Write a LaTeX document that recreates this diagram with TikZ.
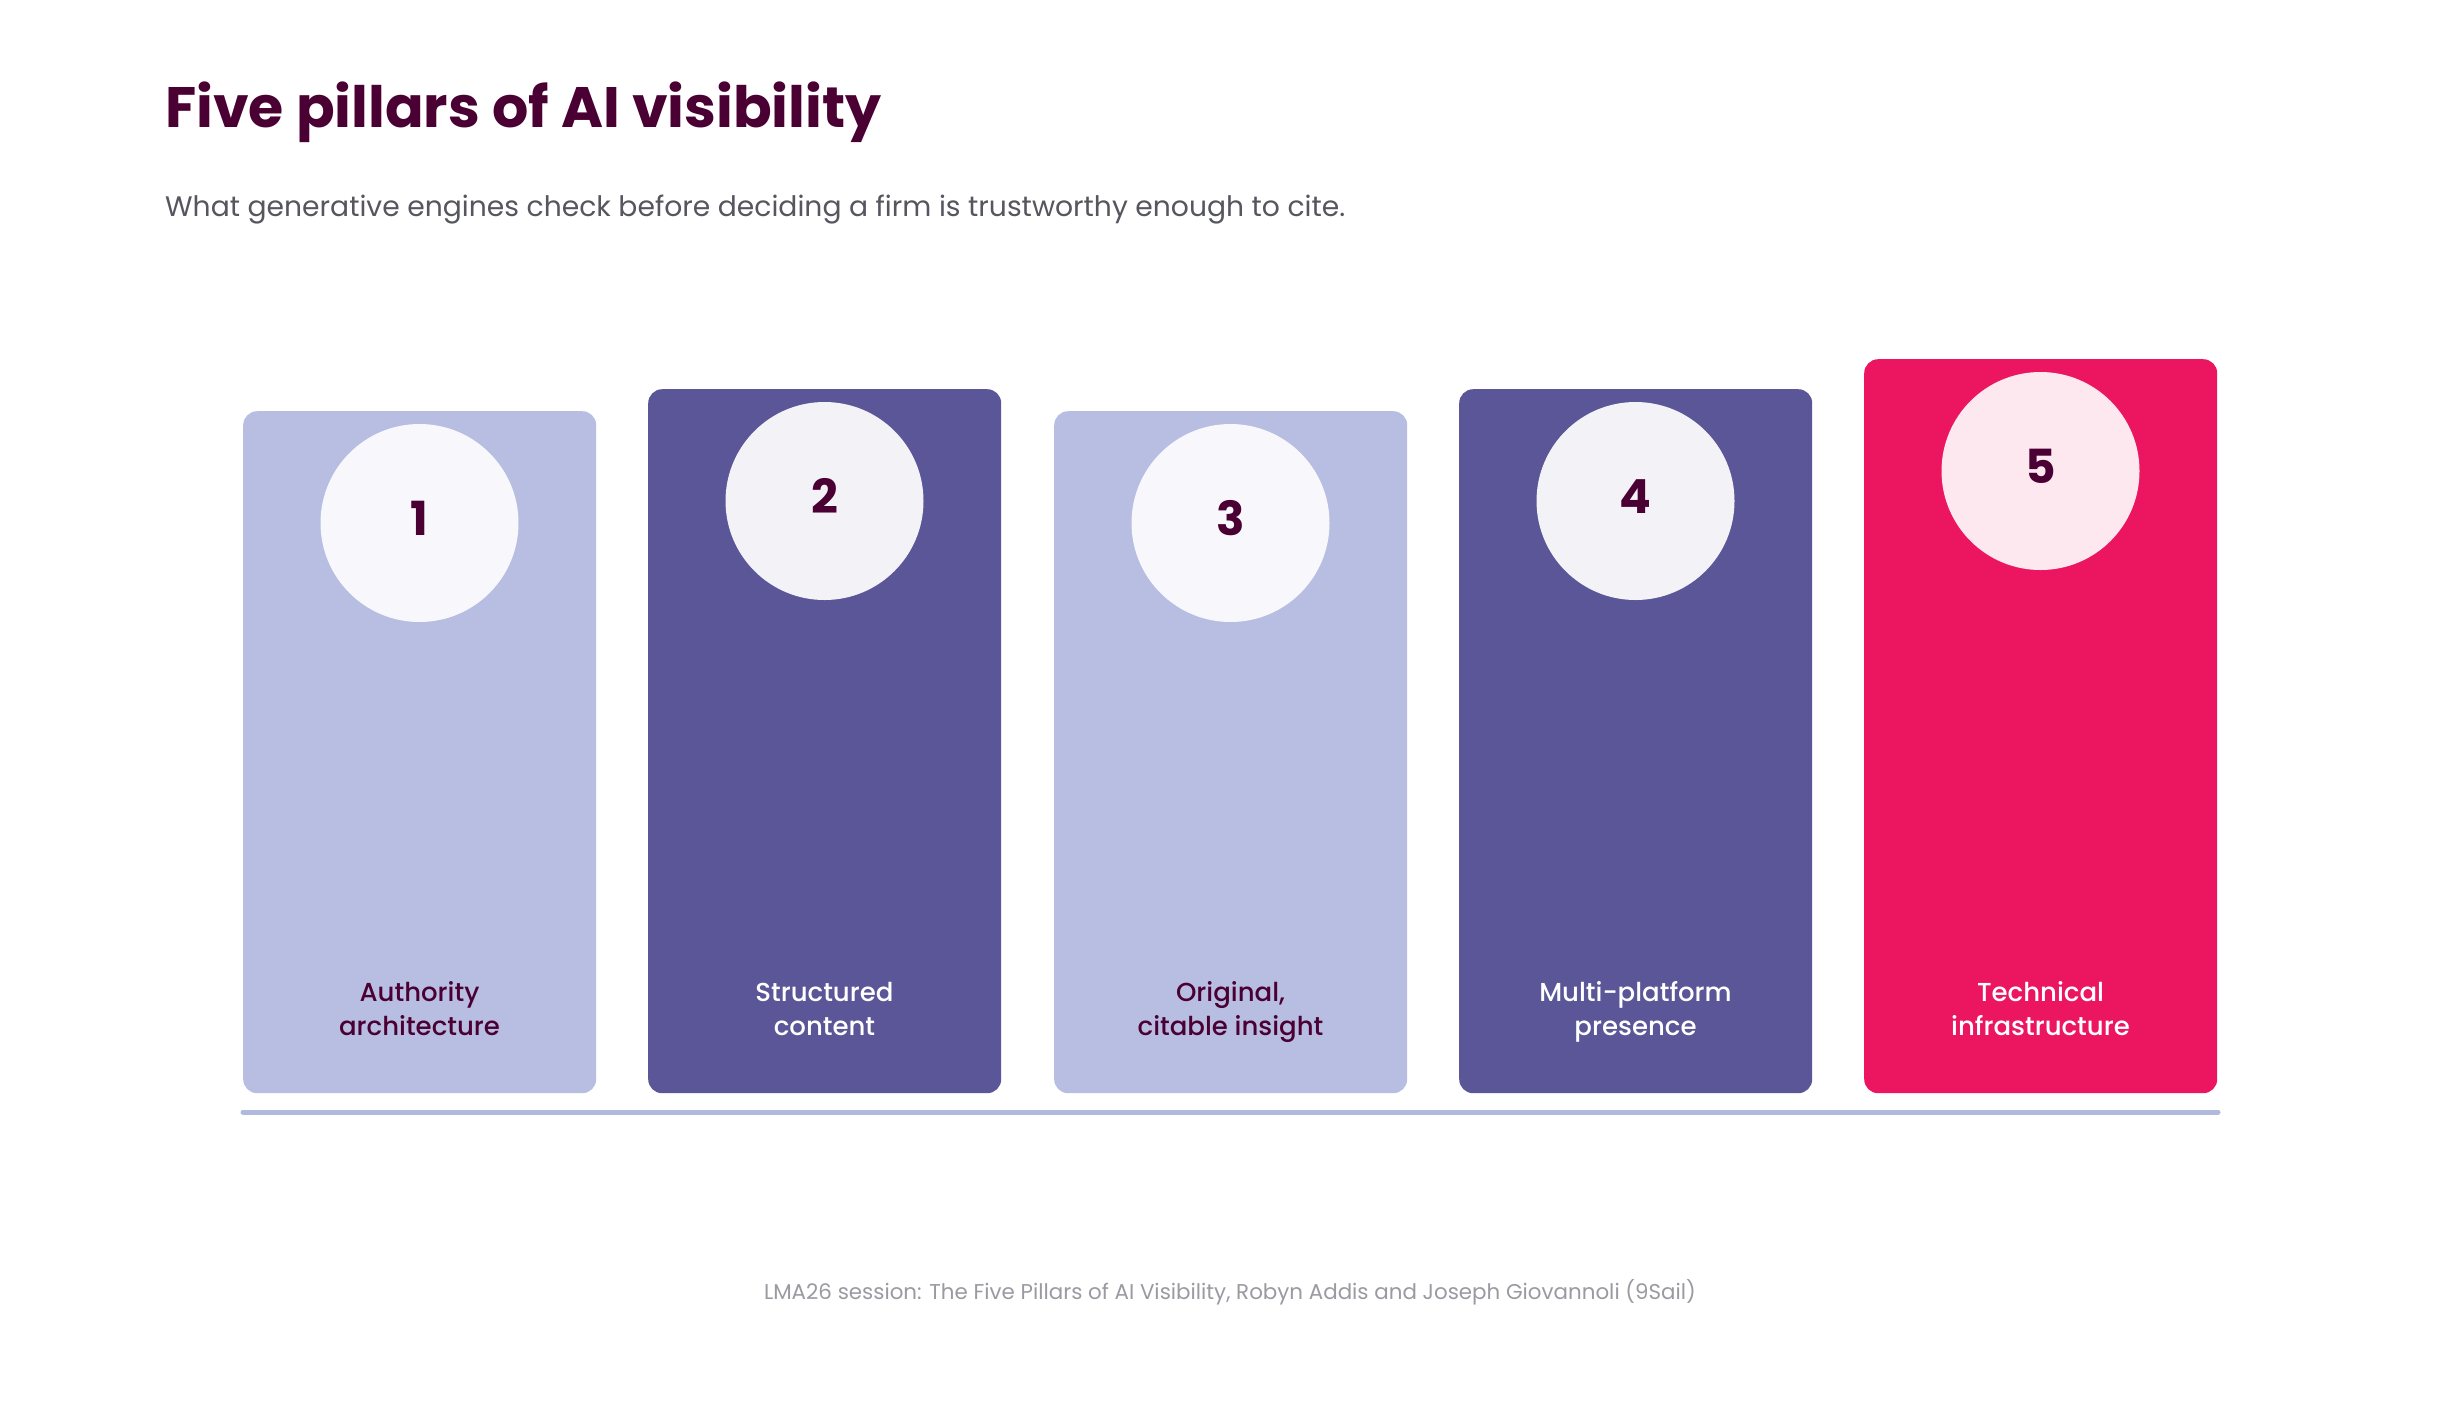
\documentclass[tikz,border=0pt]{standalone}
\usepackage{fontspec}
\setmainfont{Poppins}
\newfontfamily\pillarfont{Poppins Medium}
\definecolor{maroon}{HTML}{4A0033}
\definecolor{subgray}{HTML}{55565E}
\definecolor{footgray}{HTML}{9A9AA2}
\definecolor{lavender}{HTML}{B7BEE2}
\definecolor{indigo}{HTML}{5A5698}
\definecolor{crimson}{HTML}{EC1660}
\definecolor{baseblue}{HTML}{B0BADF}
\definecolor{discpale}{HTML}{F8F8FC}
\definecolor{discgray}{HTML}{F2F2F7}
\definecolor{discpink}{HTML}{FDE8F0}
\tikzset{
  pillar/.style={rectangle, rounded corners=14pt, anchor=north west, minimum width=353pt, inner sep=0pt},
  disc/.style={circle, minimum size=198pt, inner sep=0pt, text height=33pt, text depth=8pt, font=\fontsize{47}{47}\selectfont\bfseries, text=maroon},
  caption/.style={align=center, text height=52pt, text depth=8pt, font=\pillarfont\fontsize{26}{34}\selectfont},
}
\begin{document}
\begin{tikzpicture}[x=1pt, y=-1pt]
\useasboundingbox [fill=white] (0,0) rectangle (2460,1409);
% heading
\node [anchor=base west, inner sep=0pt, text=maroon, font=\fontsize{57}{57}\selectfont\bfseries] (title) at (165,127) {Five pillars of AI visibility};
\node [anchor=base west, inner sep=0pt, text=subgray, font=\fontsize{28.2}{28.2}\selectfont] (subtitle) at (165,216) {What generative engines check before deciding a firm is trustworthy enough to cite.};
% pillars
\node [pillar, fill=lavender, minimum height=682pt] (p1) at (243,411) {};
\node [pillar, fill=indigo, minimum height=704pt] (p2) at (648,389) {};
\node [pillar, fill=lavender, minimum height=682pt] (p3) at (1054,411) {};
\node [pillar, fill=indigo, minimum height=704pt] (p4) at (1459,389) {};
\node [pillar, fill=crimson, minimum height=734pt] (p5) at (1864,359) {};
% numbered discs
\node [disc, fill=discpale] (d1) at (419.5,523) {1};
\node [disc, fill=discgray] (d2) at (824.5,501) {2};
\node [disc, fill=discpale] (d3) at (1230.5,523) {3};
\node [disc, fill=discgray] (d4) at (1635.5,501) {4};
\node [disc, fill=discpink] (d5) at (2040.5,471) {5};
% labels
\node [caption, text=maroon] (c1) at (419.5,1013) {Authority\\architecture};
\node [caption, text=white] (c2) at (824.5,1013) {Structured\\content};
\node [caption, text=maroon] (c3) at (1230.5,1013) {Original,\\citable insight};
\node [caption, text=white] (c4) at (1635.5,1013) {Multi-platform\\presence};
\node [caption, text=white] (c5) at (2040.5,1013) {Technical\\infrastructure};
% base line
\coordinate (bl) at (243,1112);
\coordinate (br) at (2218,1112);
\draw [baseblue, line width=5pt, line cap=round] (bl) -- (br);
% source
\node [anchor=base, inner sep=0pt, text=footgray, font=\fontsize{21.4}{21.4}\selectfont] (source) at (1230,1299) {LMA26 session: The Five Pillars of AI Visibility, Robyn Addis and Joseph Giovannoli (9Sail)};
\end{tikzpicture}
\end{document}
